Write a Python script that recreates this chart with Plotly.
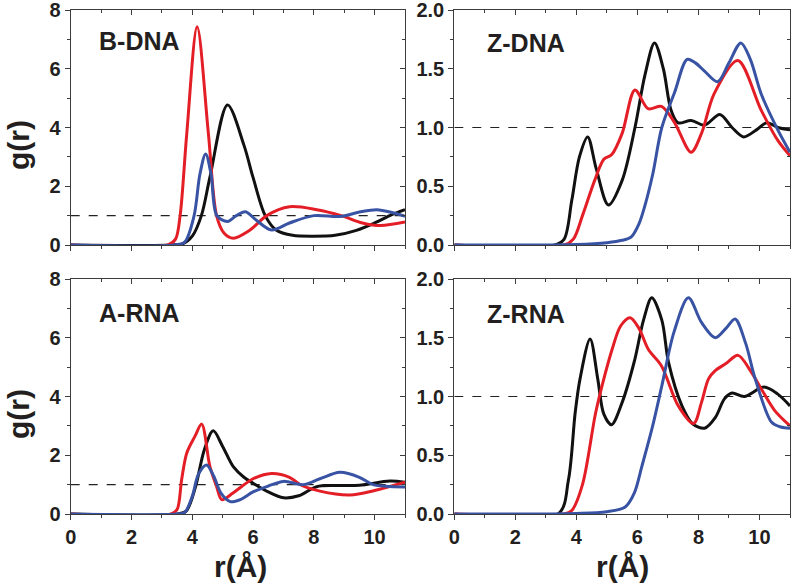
import plotly.graph_objects as go

# ---------------- data ----------------
# B-DNA (top-left)
bdna_black_r = [0, 3.3, 3.7, 4.0, 4.3, 4.58, 5.16, 5.7, 6.0, 6.4, 6.77, 7.3, 8.0, 8.7, 9.4, 10.0, 10.5, 11.0]
bdna_black_g = [0, 0, 0.05, 0.3, 1.0, 2.3, 4.77, 3.4, 2.3, 1.0, 0.5, 0.33, 0.3, 0.33, 0.5, 0.75, 1.0, 1.2]
bdna_red_r = [0, 3.2, 3.45, 3.6, 3.82, 4.16, 4.53, 4.8, 5.05, 5.35, 5.9, 6.45, 7.2, 8.1, 8.9, 9.6, 10.2, 11.0]
bdna_red_g = [0, 0, 0.2, 1.0, 3.8, 7.43, 3.8, 1.0, 0.4, 0.23, 0.51, 1.0, 1.3, 1.2, 1.0, 0.75, 0.66, 0.78]
bdna_blue_r = [0, 3.4, 3.75, 4.06, 4.25, 4.44, 4.62, 4.81, 5.16, 5.45, 5.75, 6.1, 6.61, 7.2, 8.0, 8.86, 9.5, 10.07, 10.6, 11.0]
bdna_blue_g = [0, 0, 0.1, 1.0, 2.4, 3.1, 2.4, 1.0, 0.8, 1.0, 1.13, 0.85, 0.51, 0.75, 1.0, 0.97, 1.12, 1.2, 1.1, 0.98]

# A-RNA (bottom-left)
arna_black_r = [0, 3.5, 3.8, 4.1, 4.4, 4.69, 5.0, 5.35, 5.7, 6.0, 6.5, 7.0, 7.5, 8.09, 8.7, 9.5, 10.5, 11.0]
arna_black_g = [0, 0, 0.1, 0.9, 2.2, 2.83, 2.3, 1.61, 1.25, 1.05, 0.75, 0.55, 0.62, 0.93, 0.97, 0.98, 1.12, 1.08]
arna_red_r = [0, 3.3, 3.5, 3.65, 3.82, 4.09, 4.31, 4.58, 4.8, 4.97, 5.35, 6.0, 6.61, 7.2, 7.55, 8.2, 9.19, 10.0, 11.0]
arna_red_g = [0, 0, 0.15, 1.17, 2.08, 2.65, 3.06, 1.62, 0.94, 0.49, 0.72, 1.2, 1.38, 1.25, 1.0, 0.78, 0.65, 0.8, 1.08]
arna_blue_r = [0, 3.5, 3.75, 4.0, 4.2, 4.47, 4.7, 4.95, 5.25, 5.6, 6.0, 6.5, 7.0, 7.65, 8.2, 8.86, 9.5, 9.95, 11.0]
arna_blue_g = [0, 0, 0.05, 0.6, 1.35, 1.67, 1.3, 0.7, 0.42, 0.5, 0.75, 0.95, 1.11, 1.0, 1.2, 1.42, 1.25, 1.0, 0.92]

# Z-DNA (top-right)
zdna_black_r = [0, 3.3, 3.6, 3.85, 4.1, 4.37, 4.65, 5.05, 5.5, 5.92, 6.25, 6.56, 6.85, 7.1, 7.33, 7.76, 8.2, 8.7, 9.1, 9.48, 9.9, 10.24, 10.6, 11.0]
zdna_black_g = [0, 0, 0.05, 0.38, 0.75, 0.92, 0.65, 0.34, 0.55, 1.0, 1.45, 1.72, 1.5, 1.15, 1.04, 1.06, 1.02, 1.11, 1.0, 0.92, 0.98, 1.04, 1.0, 0.98]
zdna_red_r = [0, 3.6, 3.9, 4.2, 4.6, 4.9, 5.16, 5.5, 5.92, 6.35, 6.79, 7.22, 7.76, 8.1, 8.52, 9.29, 10.05, 10.6, 11.0]
zdna_red_g = [0, 0, 0.05, 0.25, 0.55, 0.73, 0.77, 0.95, 1.32, 1.16, 1.18, 1.04, 0.79, 0.95, 1.29, 1.57, 1.15, 0.89, 0.76]
zdna_blue_r = [0, 4.0, 5.0, 5.5, 5.8, 6.05, 6.24, 6.5, 6.8, 7.22, 7.63, 7.9, 8.2, 8.63, 9.0, 9.39, 9.7, 10.05, 10.6, 11.0]
zdna_blue_g = [0, 0.005, 0.02, 0.04, 0.07, 0.18, 0.33, 0.6, 1.0, 1.3, 1.58, 1.55, 1.48, 1.39, 1.55, 1.72, 1.58, 1.29, 0.98, 0.79]

# Z-RNA (bottom-right)
zrna_black_r = [0, 3.4, 3.74, 3.96, 4.12, 4.45, 4.7, 4.9, 5.15, 5.5, 5.9, 6.2, 6.47, 6.8, 7.02, 7.46, 7.8, 8.2, 8.55, 8.85, 9.1, 9.5, 10.15, 10.6, 11.0]
zrna_black_g = [0, 0, 0.29, 0.86, 1.15, 1.49, 1.15, 0.85, 0.76, 0.95, 1.3, 1.65, 1.84, 1.65, 1.29, 0.92, 0.77, 0.73, 0.82, 0.98, 1.03, 1.0, 1.08, 1.02, 0.92]
zrna_red_r = [0, 3.6, 3.85, 4.2, 4.63, 4.9, 5.17, 5.45, 5.76, 6.05, 6.36, 6.79, 7.34, 7.84, 8.1, 8.33, 8.55, 8.9, 9.3, 9.7, 10.07, 10.5, 11.0]
zrna_red_g = [0, 0, 0.03, 0.25, 0.86, 1.15, 1.4, 1.6, 1.67, 1.58, 1.40, 1.26, 0.92, 0.77, 0.95, 1.15, 1.22, 1.28, 1.35, 1.22, 1.06, 0.88, 0.75]
zrna_blue_r = [0, 4.0, 5.0, 5.6, 5.9, 6.15, 6.5, 6.8, 7.2, 7.67, 8.1, 8.55, 8.9, 9.2, 9.55, 9.86, 10.4, 10.7, 11.0]
zrna_blue_g = [0, 0.005, 0.02, 0.06, 0.18, 0.41, 0.75, 1.09, 1.55, 1.84, 1.63, 1.50, 1.58, 1.66, 1.45, 1.15, 0.78, 0.74, 0.73]

panel_names = ["B-DNA", "Z-DNA", "A-RNA", "Z-RNA"]
ref_line = [1.0, 1.0]
ref_r = [0, 11]
x_range = [0, 11]

# ---------------- styling ----------------
BLACK = "#111111"
RED = "#e41e26"
BLUE = "#3953a4"
AX = "#3c3c3c"
TXT = "#231f20"
FONT = "Liberation Sans, Arial, sans-serif"
W, H = 795, 583

# panel pixel boxes: (left, right, top, bottom)
boxes = {
    1: (70.7, 405.0, 10.0, 245.0),
    2: (454.3, 790.0, 10.0, 245.0),
    3: (70.7, 405.0, 279.0, 514.0),
    4: (454.3, 790.0, 279.0, 514.0),
}

panels = {
    1: [(bdna_black_r, bdna_black_g, BLACK), (bdna_red_r, bdna_red_g, RED), (bdna_blue_r, bdna_blue_g, BLUE)],
    2: [(zdna_black_r, zdna_black_g, BLACK), (zdna_red_r, zdna_red_g, RED), (zdna_blue_r, zdna_blue_g, BLUE)],
    3: [(arna_black_r, arna_black_g, BLACK), (arna_red_r, arna_red_g, RED), (arna_blue_r, arna_blue_g, BLUE)],
    4: [(zrna_black_r, zrna_black_g, BLACK), (zrna_red_r, zrna_red_g, RED), (zrna_blue_r, zrna_blue_g, BLUE)],
}
label_pos = {1: (0.87, 6.95), 2: (1.0, 1.72), 3: (0.85, 6.84), 4: (1.0, 1.70)}

fig = go.Figure()
layout = dict(
    width=W, height=H, margin=dict(l=0, r=0, t=0, b=0, pad=0, autoexpand=False),
    paper_bgcolor="white", plot_bgcolor="white", showlegend=False,
    font=dict(family=FONT, color=TXT),
)

for i in range(1, 5):
    xa, ya = f"x{i}", f"y{i}"
    l, r, t, b = boxes[i]
    xd = [l / W, r / W]
    yd = [1 - b / H, 1 - t / H]
    left_col = i in (1, 3)
    bottom_row = i in (3, 4)
    yr = [0, 8] if left_col else [0, 2]
    ydt = 2 if left_col else 0.5
    # dashed reference
    fig.add_trace(go.Scatter(x=ref_r, y=ref_line, mode="lines", xaxis=xa, yaxis=ya,
                             line=dict(color="#222222", width=1.2, dash="dash"), hoverinfo="skip"))
    for rr, gg, col in panels[i]:
        fig.add_trace(go.Scatter(x=rr, y=gg, mode="lines", xaxis=xa, yaxis=ya,
                                 line=dict(color=col, width=3, shape="spline", smoothing=0.9)))
    tickfont = dict(family=FONT, size=20, color=TXT, weight="bold")
    layout[f"xaxis{i}"] = dict(
        domain=xd, anchor=ya, range=x_range, dtick=2, tick0=0, automargin=False,
        ticks="outside", ticklen=5, tickwidth=1.2, tickcolor=AX, ticklabeloverflow="allow",
        minor=dict(dtick=1, ticks="outside", ticklen=3, tickcolor=AX, tickwidth=1.2),
        showline=True, linecolor=AX, linewidth=1.2, mirror=True,
        showgrid=False, zeroline=False, showticklabels=bottom_row, tickfont=tickfont,
    )
    layout[f"yaxis{i}"] = dict(
        domain=yd, anchor=xa, range=yr, dtick=ydt, tick0=0, automargin=False,
        tickformat="d" if left_col else ".1f", ticklabeloverflow="allow",
        ticks="outside", ticklen=5, tickwidth=1.2, tickcolor=AX,
        minor=dict(dtick=ydt / 2, ticks="outside", ticklen=3, tickcolor=AX, tickwidth=1.2),
        showline=True, linecolor=AX, linewidth=1.2, mirror=True,
        showgrid=False, zeroline=False, showticklabels=True, tickfont=tickfont,
    )
    # mirrored inside ticks (top / right)
    j = i + 4
    layout[f"xaxis{j}"] = dict(
        overlaying=xa, side="top", anchor=ya, range=x_range, dtick=2, tick0=0, automargin=False,
        ticks="inside", ticklen=5, tickwidth=1.2, tickcolor=AX,
        minor=dict(dtick=1, ticks="inside", ticklen=3, tickcolor=AX, tickwidth=1.2),
        showline=False, showgrid=False, zeroline=False, showticklabels=False,
    )
    layout[f"yaxis{j}"] = dict(
        overlaying=ya, side="right", anchor=xa, range=yr, dtick=ydt, tick0=0, automargin=False,
        ticks="inside", ticklen=5, tickwidth=1.2, tickcolor=AX,
        minor=dict(dtick=ydt / 2, ticks="inside", ticklen=3, tickcolor=AX, tickwidth=1.2),
        showline=False, showgrid=False, zeroline=False, showticklabels=False,
    )
    fig.add_trace(go.Scatter(x=[None], y=[None], xaxis=f"x{j}", yaxis=f"y{j}",
                             mode="lines", hoverinfo="skip"))

annotations = []
for i in range(1, 5):
    lx, ly = label_pos[i]
    annotations.append(dict(text=f"<b>{panel_names[i-1]}</b>", x=lx, y=ly, xref=f"x{i}", yref=f"y{i}",
                            xanchor="left", yanchor="middle", showarrow=False,
                            font=dict(family=FONT, size=25, color=TXT)))
# axis titles
for yc in (145, 414):
    annotations.append(dict(text="<b>g(r)</b>", x=18 / W, y=1 - yc / H, xref="paper", yref="paper",
                            xanchor="center", yanchor="middle", textangle=-90, showarrow=False,
                            font=dict(family=FONT, size=30, color=TXT)))
for xc in (240, 622):
    annotations.append(dict(text="<b>r(Å)</b>", x=xc / W, y=1 - 566 / H, xref="paper", yref="paper",
                            xanchor="center", yanchor="middle", showarrow=False,
                            font=dict(family=FONT, size=30, color=TXT)))
layout["annotations"] = annotations
fig.update_layout(**layout)
fig.write_html("out.html", config={"displayModeBar": False},
               post_script="document.body.style.margin='0';document.body.style.overflow='hidden';")
